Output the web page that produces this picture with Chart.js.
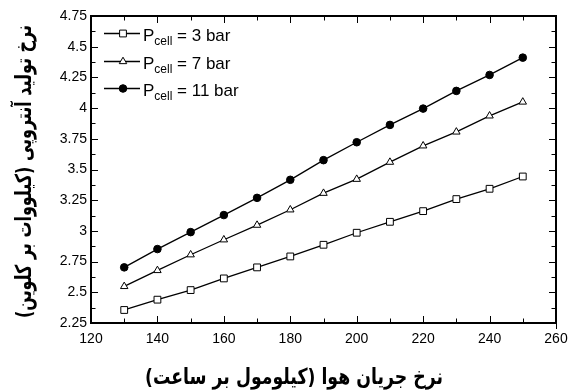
<!DOCTYPE html>
<html>
<head>
<meta charset="utf-8">
<script src="https://cdn.jsdelivr.net/npm/chart.js@4.4.1/dist/chart.umd.min.js"></script>
<style>
html, body { margin: 0; padding: 0; background: #fff; }
#wrap { width: 576px; height: 390px; }
</style>
</head>
<body>
<div id="wrap"><canvas id="myChart" width="576" height="390"></canvas></div>
<script>
// داده ها
const airFlow = [130, 140, 150, 160, 170, 180, 190, 200, 210, 220, 230, 240, 250];
const rate3bar = [2.356, 2.440, 2.518, 2.613, 2.703, 2.792, 2.887, 2.985, 3.074, 3.161, 3.259, 3.343, 3.443];
const rate7bar = [2.548, 2.678, 2.806, 2.928, 3.047, 3.172, 3.307, 3.421, 3.560, 3.693, 3.806, 3.937, 4.050];
const rate11bar = [2.703, 2.852, 2.990, 3.129, 3.269, 3.416, 3.576, 3.722, 3.863, 3.996, 4.140, 4.270, 4.411];

const xTicks = [120, 140, 160, 180, 200, 220, 240, 260];
const xMinorTicks = [130, 150, 170, 190, 210, 230, 250];
const yTicks = [2.25, 2.5, 2.75, 3, 3.25, 3.5, 3.75, 4, 4.25, 4.5, 4.75];
const yMinorTicks = [2.375, 2.625, 2.875, 3.125, 3.375, 3.625, 3.875, 4.125, 4.375, 4.625];

const legendNames = ['3 bar', '7 bar', '11 bar'];
const xTitle = 'نرخ جریان هوا (کیلومول بر ساعت)';
const yTitle = 'نرخ تولید آنتروپی (کیلووات بر کلوین)';

const tickFont = { family: "'Liberation Sans', Arial, sans-serif", size: 14 };
const titleFont = "bold 22px 'DejaVu Sans', sans-serif";

// marker stilleri
const markers = [
    { pointStyle: 'rect', radius: 4.8, bg: '#fff' },
    { pointStyle: 'triangle', radius: 4.3, bg: '#fff' },
    { pointStyle: 'circle', radius: 3.8, bg: '#000' }
];

function makeSet(values, idx) {
    const m = markers[idx];
    return {
        label: legendNames[idx],
        data: airFlow.map((x, i) => ({ x: x, y: values[i] })),
        borderColor: '#000',
        borderWidth: 1.3,
        pointStyle: m.pointStyle,
        pointRadius: m.radius,
        pointHoverRadius: m.radius,
        pointBackgroundColor: m.bg,
        pointBorderColor: '#000',
        pointBorderWidth: 1,
        tension: 0
    };
}

// baslik yazisi, uzunluga sigdirilmis
function drawTitle(ctx, text, cx, cy, len, rot) {
    ctx.save();
    ctx.translate(cx, cy);
    ctx.rotate(rot);
    const w = ctx.measureText(text).width;
    ctx.scale(len / w, 1);
    ctx.fillText(text, 0, 0);
    ctx.restore();
}

// cerceve, ic tikler, legend ve basliklar
const framePlugin = {
    id: 'frame',
    afterDraw(chart) {
        const { ctx, chartArea: a, scales: { x, y } } = chart;
        ctx.save();
        ctx.strokeStyle = '#000';
        ctx.lineWidth = 1;
        ctx.beginPath();
        const xt = (vals, len) => vals.forEach(v => {
            const px = Math.round(x.getPixelForValue(v)) + 0.5;
            ctx.moveTo(px, a.bottom); ctx.lineTo(px, a.bottom - len);
            ctx.moveTo(px, a.top); ctx.lineTo(px, a.top + len);
        });
        const yt = (vals, len) => vals.forEach(v => {
            const py = Math.round(y.getPixelForValue(v)) + 0.5;
            ctx.moveTo(a.left, py); ctx.lineTo(a.left + len, py);
            ctx.moveTo(a.right, py); ctx.lineTo(a.right - len, py);
        });
        xt(xTicks, 7); xt(xMinorTicks, 4.5);
        yt(yTicks, 7); yt(yMinorTicks, 4.5);
        // kucuk dis tik (sag alt)
        ctx.moveTo(a.right + 0.5, a.bottom); ctx.lineTo(a.right + 0.5, a.bottom + 6);
        ctx.stroke();

        ctx.lineWidth = 2;
        ctx.strokeRect(a.left, a.top, a.right - a.left, a.bottom - a.top);

        // legend
        const rowsY = [33.5, 61.5, 88.5];
        legendNames.forEach((name, i) => {
            const ly = rowsY[i];
            ctx.lineWidth = 1.3;
            ctx.beginPath();
            ctx.moveTo(a.left + 13, ly); ctx.lineTo(a.left + 49, ly);
            ctx.stroke();
            const m = markers[i];
            ctx.lineWidth = 1;
            ctx.fillStyle = m.bg;
            Chart.helpers.drawPoint(ctx, { pointStyle: m.pointStyle, radius: m.radius, borderWidth: 1, rotation: 0 }, a.left + 32, ly);
            ctx.fillStyle = '#000';
            ctx.textAlign = 'left';
            ctx.textBaseline = 'alphabetic';
            let tx = a.left + 52;
            ctx.font = "17px 'Liberation Sans', Arial, sans-serif";
            ctx.fillText('P', tx, ly + 7);
            tx += ctx.measureText('P').width;
            ctx.font = "12px 'Liberation Sans', Arial, sans-serif";
            ctx.fillText('cell', tx, ly + 11);
            tx += ctx.measureText('cell').width;
            ctx.font = "17px 'Liberation Sans', Arial, sans-serif";
            ctx.fillText(' = ' + name, tx, ly + 7);
        });

        // eksen basliklari
        ctx.fillStyle = '#000';
        ctx.font = titleFont;
        ctx.direction = 'rtl';
        ctx.textAlign = 'center';
        ctx.textBaseline = 'middle';
        drawTitle(ctx, xTitle, 294, 378, 298, 0);
        drawTitle(ctx, yTitle, 25, 171.5, 293, -Math.PI / 2);
        ctx.restore();
    }
};

const ctx = document.getElementById('myChart');
new Chart(ctx, {
    type: 'line',
    data: {
        datasets: [makeSet(rate3bar, 0), makeSet(rate7bar, 1), makeSet(rate11bar, 2)]
    },
    options: {
        responsive: false,
        animation: false,
        devicePixelRatio: 1,
        layout: { padding: { top: 16, right: 20, left: 0, bottom: 0 } },
        plugins: { legend: { display: false }, tooltip: { enabled: false } },
        scales: {
            x: {
                type: 'linear',
                min: 120,
                max: 260,
                afterBuildTicks: s => { s.ticks = xTicks.map(v => ({ value: v })); },
                afterFit: s => { s.height = 67; },
                grid: { display: false, drawTicks: false },
                border: { display: false },
                ticks: { font: tickFont, color: '#000', padding: 8, maxRotation: 0, autoSkip: false }
            },
            y: {
                type: 'linear',
                min: 2.25,
                max: 4.75,
                afterBuildTicks: s => { s.ticks = yTicks.map(v => ({ value: v })); },
                afterFit: s => { s.width = 91; },
                grid: { display: false, drawTicks: false },
                border: { display: false },
                ticks: { font: tickFont, color: '#000', padding: 4, autoSkip: false,
                    callback: v => String(+v.toFixed(2)) }
            }
        }
    },
    plugins: [framePlugin]
});
</script>
</body>
</html>
